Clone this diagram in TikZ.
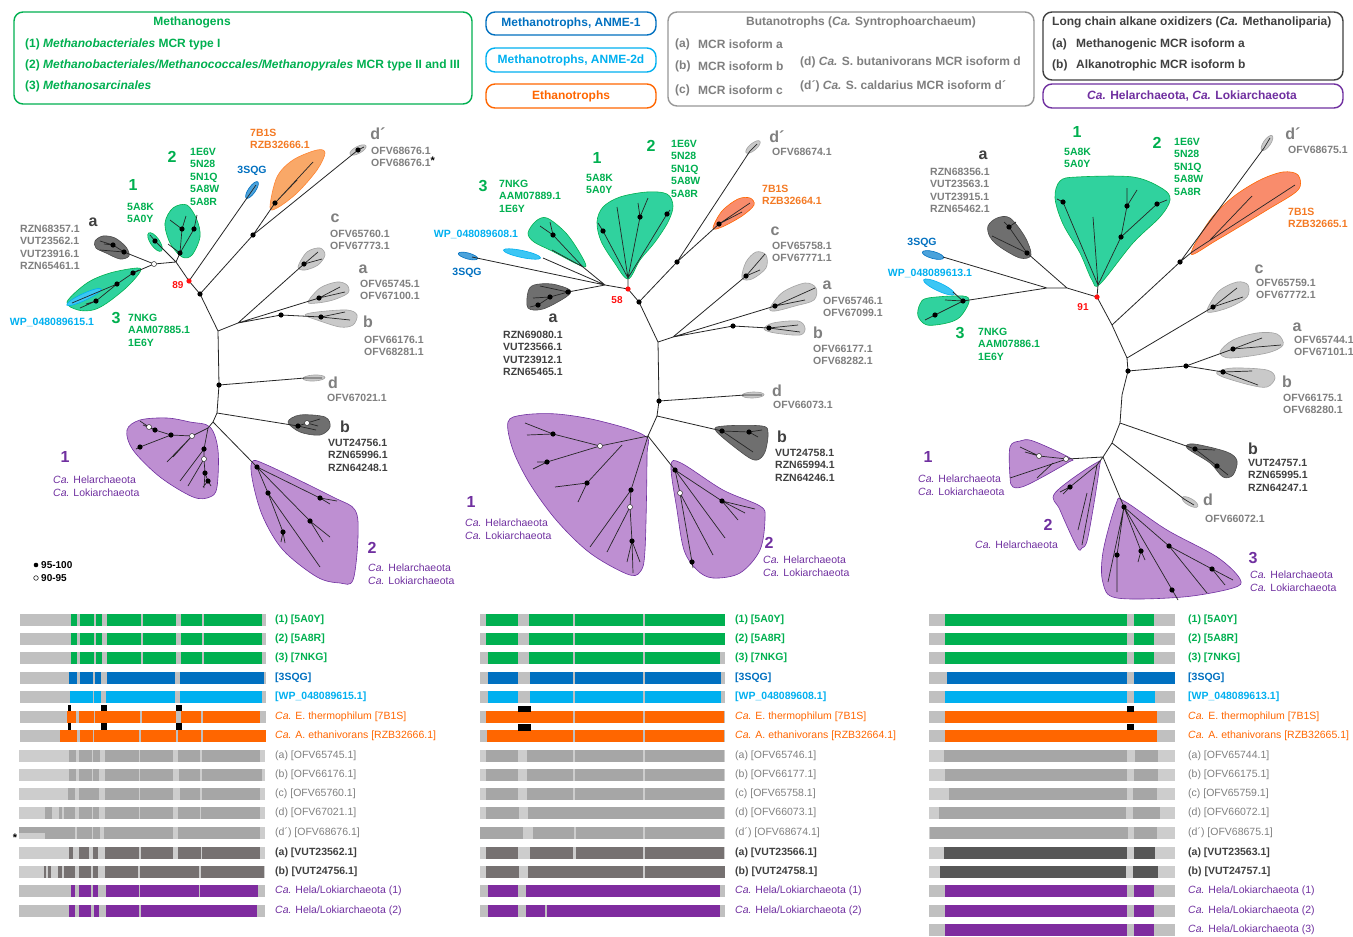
\documentclass[tikz,border=0pt]{standalone}
\usepackage{fontspec}
\setmainfont{Liberation Sans}
\definecolor{mgreen}{HTML}{00B050}
\definecolor{gfill}{HTML}{30D29E}
\definecolor{mblue}{HTML}{0070C0}
\definecolor{sfill}{HTML}{4BA2DB}
\definecolor{mcyan}{HTML}{00B0F0}
\definecolor{cfill}{HTML}{3CC6F4}
\definecolor{morange}{HTML}{FF6600}
\definecolor{otext}{HTML}{F47A24}
\definecolor{ofillA}{HTML}{F9A868}
\definecolor{ofillB}{HTML}{F98C6C}
\definecolor{mpurple}{HTML}{7030A0}
\definecolor{pfill}{HTML}{BE8FD2}
\definecolor{pbar}{HTML}{7F2C9F}
\definecolor{gtext}{HTML}{7F7F7F}
\definecolor{dtext}{HTML}{404040}
\definecolor{lfill}{HTML}{C9C9C9}
\definecolor{ldraw}{HTML}{A3A3A3}
\definecolor{dfill}{HTML}{6F6F6F}
\definecolor{ddraw}{HTML}{4A4A4A}
\definecolor{barbg}{HTML}{C0C0C0}
\definecolor{barbgl}{HTML}{CDCDCD}
\definecolor{gseg}{HTML}{A6A6A6}
\definecolor{dseg}{HTML}{767171}
\definecolor{dsegc}{HTML}{575757}
\definecolor{bootred}{HTML}{FF1010}
\newcommand\mcrbar[6]{%
  \fill[#4] (#2,#1-6) rectangle (#3,#1+6);
  \foreach \sa/\sb in {#6} {\fill[#5] (\sa,#1-6) rectangle (\sb,#1+6);}}
\newcommand\clade[2]{\filldraw[#1] plot[smooth cycle,tension=0.55] coordinates {#2};}
\newcommand\astmark{\raisebox{2.5pt}{\color{black}\bfseries\fontsize{11}{11}\selectfont *}}
\begin{document}
\begin{tikzpicture}[x=1pt,y=-1pt,
  br/.style={line width=0.8pt,draw=black!85,line join=round},
  tw/.style={line width=0.7pt,draw=black!85},
  gcl/.style={fill=gfill,draw=mgreen,line width=0.6pt},
  scl/.style={fill=sfill,draw=mblue,line width=0.6pt},
  ccl/.style={fill=cfill,draw=mcyan,line width=0.6pt},
  oclA/.style={fill=ofillA,draw=morange!80,line width=0.6pt},
  oclB/.style={fill=ofillB,draw=morange,line width=0.6pt},
  lcl/.style={fill=lfill,draw=ldraw,line width=0.6pt},
  dcl/.style={fill=dfill,draw=ddraw,line width=0.6pt},
  pcl/.style={fill=pfill,draw=mpurple,line width=0.6pt},
  tl/.style={font=\bfseries\fontsize{10.5}{12.4}\selectfont,align=left,anchor=north west,inner sep=0pt},
  tc/.style={font=\bfseries\fontsize{10.5}{12.4}\selectfont,inner sep=0pt},
  tp/.style={font=\fontsize{10.5}{12.4}\selectfont,align=left,anchor=north west,inner sep=0pt,text=mpurple},
  bigl/.style={font=\bfseries\fontsize{16}{18}\selectfont,inner sep=0pt},
  bs/.style={font=\bfseries\fontsize{10}{12}\selectfont,inner sep=0pt,text=bootred},
  leg/.style={font=\bfseries\fontsize{12}{14}\selectfont,inner sep=0pt,anchor=west},
  blab/.style={font=\fontsize{10.5}{12}\selectfont,inner sep=0pt,anchor=west},
  blb/.style={font=\bfseries\fontsize{10.5}{12}\selectfont,inner sep=0pt,anchor=west},
  box/.style={rounded corners=9pt,line width=1.4pt}]
\useasboundingbox (0,0) rectangle (1353,937);
\fill[white] (0,0) rectangle (1353,937);

% ================= LEGEND =================
\draw[box,mgreen] (14,12) rectangle (472,104);
\node[leg,anchor=center,mgreen] (lgT) at (192,22) {Methanogens};
\node[leg,mgreen] (lg1) at (25,44) {(1) \textit{Methanobacteriales} MCR type I};
\node[leg,mgreen] (lg2) at (25,65) {(2) \textit{Methanobacteriales/Methanococcales/Methanopyrales} MCR type II and III};
\node[leg,mgreen] (lg3) at (25,86) {(3) \textit{Methanosarcinales}};
\draw[box,mblue] (486,12) rectangle (656,35);
\node[leg,anchor=center,mblue] (lgA1) at (571,23) {Methanotrophs, ANME-1};
\draw[box,mcyan] (486,48) rectangle (656,72);
\node[leg,anchor=center,mcyan] (lgA2) at (571,60) {Methanotrophs, ANME-2d};
\draw[box,morange] (486,84) rectangle (656,108);
\node[leg,anchor=center,morange] (lgE) at (571,96) {Ethanotrophs};
\draw[box,gtext!80] (668,12) rectangle (1034,106);
\node[leg,anchor=center,gtext] (lgB) at (861,22) {Butanotrophs (\textit{Ca.} Syntrophoarchaeum)};
\node[leg,gtext] (lgBa) at (675,44) {(a)};
\node[leg,gtext] (lgBa2) at (698,44) {MCR isoform a};
\node[leg,gtext] (lgBb) at (675,66) {(b)};
\node[leg,gtext] (lgBb2) at (698,66) {MCR isoform b};
\node[leg,gtext] (lgBc) at (675,90) {(c)};
\node[leg,gtext] (lgBc2) at (698,90) {MCR isoform c};
\node[leg,gtext] (lgBd) at (800,62) {(d) \textit{Ca.} S. butanivorans MCR isoform d};
\node[leg,gtext] (lgBdp) at (800,86) {(d´) \textit{Ca.} S. caldarius MCR isoform d´};
\draw[box,dtext] (1043,12) rectangle (1343,80);
\node[leg,dtext] (lgL) at (1052,22) {Long chain alkane oxidizers (\textit{Ca.} Methanoliparia)};
\node[leg,dtext] (lgLa) at (1052,44) {(a)};
\node[leg,dtext] (lgLa2) at (1076,44) {Methanogenic MCR isoform a};
\node[leg,dtext] (lgLb) at (1052,65) {(b)};
\node[leg,dtext] (lgLb2) at (1076,65) {Alkanotrophic MCR isoform b};
\draw[box,mpurple] (1043,84) rectangle (1343,108);
\node[leg,anchor=center,mpurple] (lgH) at (1192,96) {\textit{Ca.} Helarchaeota, \textit{Ca.} Lokiarchaeota};

% ================= TREE 1 =================
\coordinate (p1) at (218,331); \coordinate (p2) at (238,323); \coordinate (p3) at (281,315);
\coordinate (t1cB) at (321,317); \coordinate (t1cA) at (319,298); \coordinate (t1cC) at (304,264);
\coordinate (p4) at (200,294); \coordinate (p5) at (253,235); \coordinate (t1O) at (275,203);
\coordinate (t1Dp) at (358,150); \coordinate (r1) at (189,281); \coordinate (t1S) at (247,198);
\coordinate (p6) at (176,262); \coordinate (t1g2) at (180,253); \coordinate (t1g1) at (155,241);
\coordinate (w1) at (154,264); \coordinate (t1Da) at (124,252); \coordinate (t1g3) at (133,273);
\coordinate (p7) at (219,385); \coordinate (t1D) at (305,378); \coordinate (p8) at (217,413);
\coordinate (t1Db) at (298,426); \coordinate (p9) at (213,422); \coordinate (p10) at (208,428);
\coordinate (t1P2) at (257,467);

\clade{dcl}{(95,241) (103,236) (115,238) (126,247) (129,256) (120,259) (106,253) (96,248)}
\clade{gcl}{(67,302) (87,283) (110,273) (137,268) (140,272) (127,287) (107,303) (93,310) (78,310)}
\filldraw[ccl,rotate around={25:(84,297)}] (84,297) ellipse (19 and 3.5);
\clade{gcl}{(165,223) (173,208) (187,205) (197,220) (200,237) (192,255) (182,257) (170,243)}
\filldraw[gcl,rotate around={-55:(155,242)}] (155,242) ellipse (11 and 4.5);
\filldraw[scl,rotate around={55:(252,190)}] (252,190) ellipse (10 and 3.5);
\clade{oclA}{(270,207) (277,177) (293,160) (317,150) (325,153) (317,170) (297,193) (277,208)}
\filldraw[lcl,rotate around={28:(358,150)}] (358,150) ellipse (9 and 3.5);
\clade{lcl}{(298,267) (307,252) (320,248) (325,255) (318,265) (305,270)}
\clade{lcl}{(308,302) (320,288) (337,282) (347,285) (348,293) (333,300) (317,303)}
\clade{lcl}{(305,315) (317,312) (347,310) (357,315) (353,325) (340,327) (317,320)}
\filldraw[lcl,rotate around={3:(314,378)}] (314,378) ellipse (11 and 3);
\clade{dcl}{(288,422) (300,415) (325,417) (330,427) (320,435) (300,432)}
\clade{pcl}{(127,430) (140,420) (167,418) (190,422) (210,427) (218,450) (217,487) (210,497) (193,497) (160,477) (133,450)}
\clade{pcl}{(252,462) (267,465) (333,497) (355,510) (358,537) (353,580) (340,583) (317,577) (283,550) (263,517) (253,483)}

\draw[br] (p1)--(p2) (p2)--(t1cC) (p2)--(t1cA) (p2)--(p3) (p3)--(t1cB)
  (p1)--(p4) (p4)--(r1) (p4)--(p5) (p5)--(t1O) (p5)--(t1Dp)
  (r1)--(t1S) (r1)--(p6) (p6)--(t1g2) (p6)--(t1g1) (p6)--(w1) (w1)--(t1Da) (w1)--(t1g3)
  (p1)--(p7) (p7)--(t1D) (p7)--(p8) (p8)--(t1Db) (p8)--(p9) (p9)--(t1P2) (p9)--(p10);
\draw[tw] (t1cC)--(318,252) (t1cC)--(322,259) (t1cA)--(340,287) (t1cA)--(345,292)
  (t1cB)--(345,312) (t1cB)--(350,320) (t1Dp)--(364,147) (t1O)--(313,162) (t1O)--(297,180)
  (t1g2)--(182,229) (182,229)--(170,220) (182,229)--(186,216) (t1g2)--(194,229) (194,229)--(197,215) (t1g2)--(168,244)
  (t1g1)--(150,235) (t1Da)--(113,245) (113,245)--(100,241) (113,245)--(104,244) (t1Da)--(100,250)
  (t1g3)--(117,284) (117,284)--(96,301) (96,301)--(80,308) (96,301)--(86,304) (117,284)--(72,303) (t1g3)--(139,270)
  (t1S)--(256,185) (t1D)--(322,378)
  (t1Db)--(307,423) (307,423)--(320,419) (307,423)--(318,426) (t1Db)--(316,430)
  (p10)--(192,436) (192,436)--(171,435) (171,435)--(155,430) (155,430)--(149,427) (149,427)--(140,421)
  (155,430)--(143,425) (171,435)--(140,447) (140,447)--(136,449) (192,436)--(167,462) (192,436)--(173,457)
  (p10)--(204,449) (204,449)--(204,459) (204,459)--(205,473) (205,473)--(208,481) (208,481)--(203,487) (208,481)--(211,486)
  (205,473)--(204,488) (204,449)--(180,481) (204,459)--(188,486)
  (t1P2)--(268,493) (268,493)--(283,532) (283,532)--(285,543) (283,532)--(281,542) (268,493)--(320,567)
  (t1P2)--(320,498) (320,498)--(337,501) (320,498)--(330,504) (t1P2)--(310,521) (310,521)--(330,537) (310,521)--(323,542);
\foreach \px/\py in {200/294,253/235,275/203,358/150,281/315,321/317,319/298,304/264,155/241,182/229,194/229,180/253,
  113/245,124/252,133/273,117/284,96/301,219/385,298/426,171/435,155/430,140/447,204/449,205/473,208/481,
  257/467,268/493,283/532,320/498,310/521}
  {\fill (\px,\py) circle (2.6);}
\foreach \px/\py in {154/264,149/427,192/436,204/459,307/423}
  {\filldraw[fill=white,draw=black!80,line width=0.5pt] (\px,\py) circle (2.5);}
\fill[bootred] (r1) circle (2.6);

\node[bigl,dtext] (t1la) at (93,222) {a};
\node[tl,gtext] (t1ta) at (20,225) {RZN68357.1\\VUT23562.1\\VUT23916.1\\RZN65461.1};
\node[bigl,mgreen] (t1l1) at (133,185) {1};
\node[tl,mgreen] (t1t1) at (127,203) {5A8K\\5A0Y};
\node[bigl,mgreen] (t1l2) at (172,157) {2};
\node[tl,mgreen] (t1t2) at (190,148) {1E6V\\5N28\\5N1Q\\5A8W\\5A8R};
\node[tc,mblue] (t1s) at (252,171) {3SQG};
\node[tl,otext] (t1o) at (250,129) {7B1S\\RZB32666.1};
\node[bigl,gtext] (t1ldp) at (378,134) {d´};
\node[tl,gtext] (t1tdp) at (371,147) {OFV68676.1\\OFV68676.1\astmark};
\node[bigl,gtext] (t1lc) at (335,218) {c};
\node[tl,gtext] (t1tc) at (330,230) {OFV65760.1\\OFV67773.1};
\node[bigl,gtext] (t1lA) at (363,269) {a};
\node[tl,gtext] (t1tA) at (360,280) {OFV65745.1\\OFV67100.1};
\node[bigl,gtext] (t1lB) at (368,322) {b};
\node[tl,gtext] (t1tB) at (364,336) {OFV66176.1\\OFV68281.1};
\node[bigl,gtext] (t1ld) at (333,383) {d};
\node[tl,gtext] (t1td) at (327,394) {OFV67021.1};
\node[bigl,dtext] (t1lb) at (345,427) {b};
\node[tl,dtext] (t1tb) at (328,439) {VUT24756.1\\RZN65996.1\\RZN64248.1};
\node[bigl,mgreen] (t1l3) at (116,318) {3};
\node[tl,mgreen] (t1t3) at (128,314) {7NKG\\AAM07885.1\\1E6Y};
\node[tc,mcyan] (t1w) at (52,322) {WP\_048089615.1};
\node[bs] (t1bs) at (178,285) {89};
\node[bigl,mpurple] (t1p1) at (65,457) {1};
\node[tp] (t1pt1) at (53,476) {\textit{Ca.} Helarchaeota\\\textit{Ca.} Lokiarchaeota};
\node[bigl,mpurple] (t1p2) at (372,548) {2};
\node[tp] (t1pt2) at (368,564) {\textit{Ca.} Helarchaeota\\\textit{Ca.} Lokiarchaeota};
\fill (36,565) circle (2.3);
\filldraw[fill=white,draw=black,line width=0.5pt] (36,578) circle (2.3);
\node[font=\bfseries\fontsize{10}{12}\selectfont,inner sep=0,anchor=west] (k1) at (41,565) {95-100};
\node[font=\bfseries\fontsize{10}{12}\selectfont,inner sep=0,anchor=west] (k2) at (41,578) {90-95};

% ================= TREE 2 =================
\coordinate (q1) at (658,342); \coordinate (q2) at (673,337); \coordinate (t2C) at (746,276);
\coordinate (q3) at (733,326); \coordinate (t2B) at (769,328); \coordinate (t2A) at (775,306);
\coordinate (q4) at (639,302); \coordinate (q5) at (677,262); \coordinate (t2O) at (719,224);
\coordinate (t2Dp) at (750,151); \coordinate (r2) at (628,289); \coordinate (t2g12) at (628,278);
\coordinate (J2) at (605,285); \coordinate (t2Da) at (568,292); \coordinate (t2g3) at (583,267);
\coordinate (t2W) at (543,258); \coordinate (t2S) at (472,257); \coordinate (q6) at (659,401);
\coordinate (t2D) at (745,395); \coordinate (q7) at (657,416); \coordinate (t2Db) at (722,431);
\coordinate (q8) at (648,436); \coordinate (t2P2) at (675,470);

\clade{lcl}{(742,278) (746,262) (756,252) (766,255) (766,268) (752,279)}
\clade{lcl}{(770,308) (783,292) (805,283) (816,288) (814,300) (795,306) (775,311)}
\clade{lcl}{(764,329) (773,323) (798,321) (805,328) (800,335) (775,333)}
\clade{oclB}{(713,228) (722,211) (738,199) (750,198) (754,205) (742,216) (722,227)}
\filldraw[lcl,rotate around={40:(753,147)}] (753,147) ellipse (9 and 3.5);
\clade{dcl}{(528,292) (534,285) (552,284) (570,290) (566,297) (543,309) (528,308)}
\clade{gcl}{(528,233) (536,221) (547,218) (565,232) (578,250) (586,266) (577,264) (552,251) (534,242)}
\clade{gcl}{(597,222) (603,207) (620,197) (647,192) (667,194) (673,206) (668,222) (655,242) (640,260) (628,279) (614,262) (601,241)}
\filldraw[ccl,rotate around={-12:(522,254)}] (522,254) ellipse (19 and 3.5);
\filldraw[scl,rotate around={-15:(468,256)}] (468,256) ellipse (10 and 3);
\filldraw[lcl,rotate around={2:(753,395)}] (753,395) ellipse (11 and 3);
\clade{dcl}{(716,431) (724,426) (762,426) (768,433) (765,452) (757,460) (745,455)}
\clade{pcl}{(508,422) (523,415) (557,414) (600,421) (645,436) (647,457) (645,550) (640,572) (627,574) (590,553) (557,521) (530,484) (513,450)}
\clade{pcl}{(671,466) (681,463) (723,490) (760,506) (765,518) (760,550) (740,573) (713,578) (697,570) (684,550) (677,510)}

\draw[br] (q1)--(q2) (q2)--(t2C) (q2)--(t2A) (q2)--(q3) (q3)--(t2B)
  (q1)--(q4) (q4)--(r2) (q4)--(q5) (q5)--(t2O) (q5)--(t2Dp)
  (r2)--(t2g12) (r2)--(J2) (J2)--(t2Da) (J2)--(t2g3) (J2)--(t2W) (J2)--(t2S)
  (q1)--(q6) (q6)--(t2D) (q6)--(q7) (q7)--(t2Db) (q7)--(q8) (q8)--(t2P2);
\draw[tw] (t2C)--(765,254) (t2C)--(760,270) (t2A)--(815,288) (t2A)--(805,300)
  (t2B)--(798,325) (t2B)--(800,332) (t2O)--(750,203) (t2O)--(742,212) (t2Dp)--(757,144) (t2D)--(762,395)
  (t2g12)--(603,231) (603,231)--(598,223) (t2g12)--(617,207) (t2g12)--(640,217) (640,217)--(638,203) (640,217)--(648,198)
  (t2g12)--(667,214) (667,214)--(670,210)
  (t2g3)--(553,235) (553,235)--(540,226) (553,235)--(550,222) (t2g3)--(552,250)
  (t2Da)--(550,297) (550,297)--(538,305) (538,305)--(530,307) (550,297)--(533,298) (t2Da)--(540,286)
  (t2Db)--(749,432) (749,432)--(762,430) (749,432)--(758,437) (t2Db)--(753,452)
  (q8)--(600,446) (600,446)--(553,434) (553,434)--(525,423) (553,434)--(527,435) (600,446)--(547,462) (547,462)--(533,469) (547,462)--(537,462)
  (622,445)--(587,483) (587,483)--(555,487) (587,483)--(578,502)
  (q8)--(631,490) (631,490)--(630,507) (630,507)--(632,541) (632,541)--(633,573) (632,541)--(640,562) (632,541)--(627,562)
  (631,490)--(590,547) (630,507)--(607,552)
  (t2P2)--(680,493) (680,493)--(692,562) (692,562)--(693,568) (680,493)--(713,555) (t2P2)--(725,538)
  (t2P2)--(722,501) (722,501)--(755,509) (722,501)--(745,513) (722,501)--(738,520);
\foreach \px/\py in {639/302,677/262,719/224,733/326,769/328,775/306,746/276,603/231,640/217,667/214,553/235,
  568/292,550/297,538/305,659/401,722/431,749/432,553/434,547/462,587/483,631/490,632/541,675/470,722/501,692/562}
  {\fill (\px,\py) circle (2.6);}
\foreach \px/\py in {600/446,630/507,680/493}
  {\filldraw[fill=white,draw=black!80,line width=0.5pt] (\px,\py) circle (2.5);}
\fill[bootred] (r2) circle (2.6);

\node[bigl,mgreen] (t2l3) at (483,186) {3};
\node[tl,mgreen] (t2t3) at (499,180) {7NKG\\AAM07889.1\\1E6Y};
\node[bigl,mgreen] (t2l1) at (597,158) {1};
\node[tl,mgreen] (t2t1) at (586,174) {5A8K\\5A0Y};
\node[bigl,mgreen] (t2l2) at (651,146) {2};
\node[tl,mgreen] (t2t2) at (671,140) {1E6V\\5N28\\5N1Q\\5A8W\\5A8R};
\node[tc,mcyan] (t2w) at (476,234) {WP\_048089608.1};
\node[tc,mblue] (t2s) at (467,273) {3SQG};
\node[tl,otext] (t2o) at (762,185) {7B1S\\RZB32664.1};
\node[bigl,gtext] (t2ldp) at (777,137) {d´};
\node[tl,gtext] (t2tdp) at (772,148) {OFV68674.1};
\node[bigl,gtext] (t2lc) at (775,231) {c};
\node[tl,gtext] (t2tc) at (772,242) {OFV65758.1\\OFV67771.1};
\node[bigl,gtext] (t2lA) at (827,285) {a};
\node[tl,gtext] (t2tA) at (823,297) {OFV65746.1\\OFV67099.1};
\node[bigl,gtext] (t2lB) at (818,333) {b};
\node[tl,gtext] (t2tB) at (813,345) {OFV66177.1\\OFV68282.1};
\node[bs] (t2bs) at (617,300) {58};
\node[bigl,dtext] (t2la) at (553,318) {a};
\node[tl,dtext] (t2ta) at (503,331) {RZN69080.1\\VUT23566.1\\VUT23912.1\\RZN65465.1};
\node[bigl,gtext] (t2ld) at (777,391) {d};
\node[tl,gtext] (t2td) at (773,401) {OFV66073.1};
\node[bigl,dtext] (t2lb) at (782,437) {b};
\node[tl,dtext] (t2tb) at (775,449) {VUT24758.1\\RZN65994.1\\RZN64246.1};
\node[bigl,mpurple] (t2p1) at (471,502) {1};
\node[tp] (t2pt1) at (465,519) {\textit{Ca.} Helarchaeota\\\textit{Ca.} Lokiarchaeota};
\node[bigl,mpurple] (t2p2) at (769,543) {2};
\node[tp] (t2pt2) at (763,556) {\textit{Ca.} Helarchaeota\\\textit{Ca.} Lokiarchaeota};

% ================= TREE 3 =================
\coordinate (r3) at (1097,297); \coordinate (t3g12) at (1098,285); \coordinate (s1) at (1067,288);
\coordinate (s2) at (1047,288); \coordinate (t3Da) at (1027,253); \coordinate (t3S) at (943,257);
\coordinate (t3g3) at (963,301); \coordinate (t3W) at (953,292); \coordinate (s3) at (1112,325);
\coordinate (s4) at (1180,262); \coordinate (t3O) at (1192,252); \coordinate (t3Dp) at (1264,148);
\coordinate (s5) at (1127,358); \coordinate (t3C) at (1213,307); \coordinate (s6) at (1128,371);
\coordinate (s7) at (1186,366); \coordinate (t3A) at (1233,349); \coordinate (t3B) at (1223,372);
\coordinate (s8) at (1122,395); \coordinate (s9) at (1120,423); \coordinate (t3Db) at (1195,449);
\coordinate (s10) at (1112,443); \coordinate (t3D) at (1184,499); \coordinate (s11) at (1103,457);
\coordinate (t3P1) at (1067,459); \coordinate (t3P2) at (1097,465); \coordinate (t3P3) at (1124,507);

\clade{gcl}{(1055,198) (1060,181) (1077,177) (1133,177) (1163,189) (1170,200) (1160,217) (1133,243) (1100,284) (1092,280) (1080,253) (1063,224)}
\clade{dcl}{(988,226) (997,218) (1010,218) (1025,237) (1031,255) (1020,258) (1000,247) (990,237)}
\clade{gcl}{(920,304) (928,298) (963,296) (969,302) (960,317) (947,323) (927,325) (918,316)}
\filldraw[scl,rotate around={-15:(933,255)}] (933,255) ellipse (11 and 3.5);
\filldraw[ccl,rotate around={-25:(939,287)}] (939,287) ellipse (17 and 4);
\clade{oclB}{(1191,254) (1210,220) (1233,197) (1260,180) (1283,172) (1298,175) (1298,190) (1267,210) (1217,240)}
\filldraw[lcl,rotate around={55:(1267,143)}] (1267,143) ellipse (9 and 3.5);
\clade{lcl}{(1207,310) (1219,291) (1237,282) (1248,285) (1247,297) (1230,307) (1213,312)}
\clade{lcl}{(1220,352) (1233,340) (1257,333) (1277,334) (1283,345) (1267,353) (1230,358)}
\clade{lcl}{(1217,372) (1233,368) (1267,370) (1275,378) (1267,387) (1250,385) (1223,377)}
\clade{dcl}{(1187,448) (1194,444) (1227,452) (1237,461) (1233,475) (1223,477) (1210,463)}
\filldraw[lcl,rotate around={-30:(1190,502)}] (1190,502) ellipse (9 and 3.5);
\clade{pcl}{(1010,447) (1020,441) (1033,441) (1070,458) (1067,463) (1027,485) (1013,487) (1010,477)}
\clade{pcl}{(1055,493) (1096,463) (1099,470) (1088,537) (1082,548) (1077,547) (1060,510)}
\clade{pcl}{(1103,552) (1116,504) (1124,501) (1167,530) (1217,557) (1240,579) (1233,588) (1183,597) (1117,598) (1103,583)}

\draw[br] (r3)--(t3g12) (r3)--(s1) (s1)--(t3Da) (s1)--(s2) (s2)--(t3S) (s2)--(t3g3) (t3g3)--(t3W)
  (r3)--(s3) (s3)--(s4) (s4)--(t3O) (s4)--(t3Dp) (s3)--(s5) (s5)--(t3C) (s5)--(s6)
  (s6)--(s7) (s7)--(t3A) (s7)--(t3B) (s6)--(s8) (s8)--(s9) (s9)--(t3Db) (s9)--(s10)
  (s10)--(t3D) (s10)--(s11) (s11)--(t3P1) (s11)--(t3P2) (s11)--(t3P3);
\draw[tw] (t3g12)--(1093,217) (t3g12)--(1063,202) (1063,202)--(1057,199) (t3g12)--(1121,237) (1121,237)--(1127,206)
  (1127,206)--(1127,188) (1127,206)--(1137,190) (1121,237)--(1157,204) (1157,204)--(1167,200)
  (t3Da)--(1009,227) (1009,227)--(1004,222) (1009,227)--(1016,222) (t3Da)--(992,236)
  (t3g3)--(935,315) (935,315)--(925,320) (t3g3)--(945,300)
  (t3O)--(1295,185) (1210,240)--(1252,196) (t3Dp)--(1270,138)
  (t3C)--(1237,288) (t3C)--(1243,297) (t3A)--(1262,338) (t3A)--(1281,345)
  (t3B)--(1252,371) (t3B)--(1258,385)
  (t3Db)--(1215,450) (t3Db)--(1217,466) (1217,466)--(1228,475) (t3D)--(1194,505)
  (t3P1)--(1039,456) (1039,456)--(1020,447) (1039,456)--(1025,452) (t3P1)--(1010,478) (1053,463)--(1037,478)
  (t3P2)--(1070,487) (1070,487)--(1060,492) (1070,487)--(1063,494) (t3P2)--(1082,545) (1087,493)--(1078,530)
  (t3P3)--(1108,582) (t3P3)--(1117,555) (1117,555)--(1117,592) (t3P3)--(1141,551) (1141,551)--(1145,560) (1141,551)--(1138,562)
  (t3P3)--(1169,546) (1169,546)--(1212,569) (1212,569)--(1233,580) (1212,569)--(1225,585) (1169,546)--(1207,593)
  (t3P3)--(1178,600);
\foreach \px/\py in {1180/262,1063/202,1127/206,1157/204,1121/237,1027/253,1009/227,963/301,935/315,1213/307,
  1128/371,1186/366,1233/349,1223/372,1195/449,1217/466,1070/487,1124/507,1117/555,1141/551,1169/546,1212/569,1172/590}
  {\fill (\px,\py) circle (2.6);}
\foreach \px/\py in {1039/456,1066/459}
  {\filldraw[fill=white,draw=black!80,line width=0.5pt] (\px,\py) circle (2.5);}
\fill[bootred] (r3) circle (2.6);

\node[bigl,mgreen] (t3l1) at (1077,132) {1};
\node[tl,mgreen] (t3t1) at (1064,148) {5A8K\\5A0Y};
\node[bigl,mgreen] (t3l2) at (1157,143) {2};
\node[tl,mgreen] (t3t2) at (1174,138) {1E6V\\5N28\\5N1Q\\5A8W\\5A8R};
\node[bigl,dtext] (t3la) at (983,155) {a};
\node[tl,gtext] (t3ta) at (930,168) {RZN68356.1\\VUT23563.1\\VUT23915.1\\RZN65462.1};
\node[tc,mblue] (t3s) at (922,243) {3SQG};
\node[tc,mcyan] (t3w) at (930,273) {WP\_048089613.1};
\node[bs] (t3bs) at (1083,307) {91};
\node[bigl,mgreen] (t3l3) at (960,333) {3};
\node[tl,mgreen] (t3t3) at (978,328) {7NKG\\AAM07886.1\\1E6Y};
\node[bigl,gtext] (t3ldp) at (1293,134) {d´};
\node[tl,gtext] (t3tdp) at (1288,146) {OFV68675.1};
\node[tl,otext] (t3o) at (1288,208) {7B1S\\RZB32665.1};
\node[bigl,gtext] (t3lc) at (1259,269) {c};
\node[tl,gtext] (t3tc) at (1256,279) {OFV65759.1\\OFV67772.1};
\node[bigl,gtext] (t3lA) at (1297,327) {a};
\node[tl,gtext] (t3tA) at (1294,336) {OFV65744.1\\OFV67101.1};
\node[bigl,gtext] (t3lB) at (1287,382) {b};
\node[tl,gtext] (t3tB) at (1283,394) {OFV66175.1\\OFV68280.1};
\node[bigl,dtext] (t3lb) at (1253,449) {b};
\node[tl,dtext] (t3tb) at (1248,459) {VUT24757.1\\RZN65995.1\\RZN64247.1};
\node[bigl,gtext] (t3ld) at (1208,500) {d};
\node[tl,gtext] (t3td) at (1205,515) {OFV66072.1};
\node[bigl,mpurple] (t3p1) at (928,457) {1};
\node[tp] (t3pt1) at (918,475) {\textit{Ca.} Helarchaeota\\\textit{Ca.} Lokiarchaeota};
\node[bigl,mpurple] (t3p2) at (1048,525) {2};
\node[tp] (t3pt2) at (975,541) {\textit{Ca.} Helarchaeota};
\node[bigl,mpurple] (t3p3) at (1253,558) {3};
\node[tp] (t3pt3) at (1250,571) {\textit{Ca.} Helarchaeota\\\textit{Ca.} Lokiarchaeota};

% ================= BARS PANEL 1 =================
\mcrbar{620}{20}{266}{barbg}{mgreen}{71/77,80/94,96/102,107/141,143/176,181/202,204/262}
\mcrbar{639}{20}{266}{barbg}{mgreen}{71/77,80/94,96/102,107/141,143/176,181/202,204/262}
\mcrbar{658}{20}{266}{barbg}{mgreen}{71/77,80/94,96/102,107/141,143/176,181/202,204/262}
\mcrbar{678}{20}{266}{barbg}{mblue}{69/77,80/93,95/101,107/175,180/264}
\mcrbar{697}{20}{266}{barbg}{mcyan}{70/93,94/101,106/175,180/262}
\mcrbar{717}{20}{266}{barbg}{morange}{67/76,79/94,95/140,142/176,181/201,203/260}
\mcrbar{736}{20}{266}{barbg}{morange}{60/77,80/93,94/139,141/176,178/201,203/266}
\mcrbar{756}{19}{265}{barbgl}{gseg}{69/76,79/92,93/100,105/139,140/173,178/200,202/260}
\mcrbar{775}{19}{265}{barbgl}{gseg}{69/76,79/92,93/99,105/139,140/173,179/200,202/262}
\mcrbar{794}{19}{265}{barbgl}{gseg}{68/75,79/99,105/139,140/173,180/200,202/260}
\mcrbar{813}{19}{265}{barbgl}{gseg}{45/52,59/62,64/75,79/92,93/99,105/139,140/173,178/200,201/260}
\mcrbar{833}{19}{265}{barbgl}{gseg}{45/75,77/92,93/100,104/173,178/260}
\fill[gseg] (19,827) rectangle (45,833);
\mcrbar{853}{19}{265}{barbgl}{dseg}{69/73,79/89,93/98,105/139,141/173,178/201,202/260}
\mcrbar{872}{19}{265}{barbgl}{dseg}{44/46,48/51,58/62,64/75,79/91,93/98,105/138,140/199,201/264}
\mcrbar{891}{19}{265}{barbg}{pbar}{71/75,79/91,93/98,106/139,140/199,200/258}
\mcrbar{911}{19}{265}{barbg}{pbar}{69/75,79/91,94/99,106/139,141/257}
\fill (67.5,705) rectangle (70.5,711); \fill (67.5,723) rectangle (70.5,730);
\fill (101,705) rectangle (107,711); \fill (101,723) rectangle (107,730);
\fill (176,705) rectangle (182,711); \fill (176,723) rectangle (182,730);
\node[font=\bfseries\fontsize{11}{11}\selectfont,inner sep=0] (ast1) at (15,838) {*};
\node[blb,mgreen] (a1) at (275,620) {(1) [5A0Y]};
\node[blb,mgreen] (a2) at (275,639) {(2) [5A8R]};
\node[blb,mgreen] (a3) at (275,658) {(3) [7NKG]};
\node[blb,mblue] (a4) at (275,678) {[3SQG]};
\node[blb,mcyan] (a5) at (275,697) {[WP\_048089615.1]};
\node[blab,morange] (a6) at (275,717) {\textit{Ca.} E. thermophilum [7B1S]};
\node[blab,morange] (a7) at (275,736) {\textit{Ca.} A. ethanivorans [RZB32666.1]};
\node[blab,gtext] (a8) at (275,756) {(a) [OFV65745.1]};
\node[blab,gtext] (a9) at (275,775) {(b) [OFV66176.1]};
\node[blab,gtext] (a10) at (275,794) {(c) [OFV65760.1]};
\node[blab,gtext] (a11) at (275,813) {(d) [OFV67021.1]};
\node[blab,gtext] (a12) at (275,833) {(d´) [OFV68676.1]};
\node[blb,dtext] (a13) at (275,853) {(a) [VUT23562.1]};
\node[blb,dtext] (a14) at (275,872) {(b) [VUT24756.1]};
\node[blab,mpurple] (a15) at (275,891) {\textit{Ca.} Hela/Lokiarchaeota (1)};
\node[blab,mpurple] (a16) at (275,911) {\textit{Ca.} Hela/Lokiarchaeota (2)};

% ================= BARS PANEL 2 =================
\mcrbar{620}{480}{725}{barbg}{mgreen}{486/518,529/573,575/643,645/725}
\mcrbar{639}{480}{725}{barbg}{mgreen}{486/518,529/573,575/643,645/725}
\mcrbar{658}{480}{725}{barbg}{mgreen}{488/518,529/573,575/643,645/720}
\mcrbar{678}{480}{725}{barbg}{mblue}{488/518,530/573,575/643,645/721}
\mcrbar{697}{480}{725}{barbg}{mcyan}{488/518,530/573,575/643,645/721}
\mcrbar{717}{480}{725}{barbg}{morange}{486/573,575/643,645/724}
\mcrbar{736}{480}{725}{barbg}{morange}{487/573,575/643,645/724}
\mcrbar{756}{480}{725}{barbgl}{gseg}{486/518,527/573,575/643,645/724}
\mcrbar{775}{480}{725}{barbgl}{gseg}{486/518,527/573,575/643,645/724}
\mcrbar{794}{480}{725}{barbgl}{gseg}{486/518,527/573,575/643,645/724}
\mcrbar{813}{480}{725}{barbgl}{gseg}{486/519,528/724}
\mcrbar{833}{480}{725}{barbgl}{gseg}{480/523,533/574,576/643,645/724}
\mcrbar{853}{480}{725}{barbgl}{dseg}{486/518,530/573,576/643,645/724}
\mcrbar{872}{480}{725}{barbgl}{dseg}{486/519,528/643,645/725}
\mcrbar{891}{480}{725}{barbg}{pbar}{488/518,526/720}
\mcrbar{911}{480}{725}{barbg}{pbar}{488/518,526/545,547/720}
\fill (518,706) rectangle (531,712); \fill (518,724) rectangle (531,731);
\node[blb,mgreen] (b1) at (735,620) {(1) [5A0Y]};
\node[blb,mgreen] (b2) at (735,639) {(2) [5A8R]};
\node[blb,mgreen] (b3) at (735,658) {(3) [7NKG]};
\node[blb,mblue] (b4) at (735,678) {[3SQG]};
\node[blb,mcyan] (b5) at (735,697) {[WP\_048089608.1]};
\node[blab,morange] (b6) at (735,717) {\textit{Ca.} E. thermophilum [7B1S]};
\node[blab,morange] (b7) at (735,736) {\textit{Ca.} A. ethanivorans [RZB32664.1]};
\node[blab,gtext] (b8) at (735,756) {(a) [OFV65746.1]};
\node[blab,gtext] (b9) at (735,775) {(b) [OFV66177.1]};
\node[blab,gtext] (b10) at (735,794) {(c) [OFV65758.1]};
\node[blab,gtext] (b11) at (735,813) {(d) [OFV66073.1]};
\node[blab,gtext] (b12) at (735,833) {(d´) [OFV68674.1]};
\node[blb,dtext] (b13) at (735,853) {(a) [VUT23566.1]};
\node[blb,dtext] (b14) at (735,872) {(b) [VUT24758.1]};
\node[blab,mpurple] (b15) at (735,891) {\textit{Ca.} Hela/Lokiarchaeota (1)};
\node[blab,mpurple] (b16) at (735,911) {\textit{Ca.} Hela/Lokiarchaeota (2)};

% ================= BARS PANEL 3 =================
\mcrbar{620}{929}{1175}{barbg}{mgreen}{945/1127,1134/1154}
\mcrbar{639}{929}{1175}{barbg}{mgreen}{945/1127,1134/1154}
\mcrbar{658}{929}{1175}{barbg}{mgreen}{945/1127,1134/1154}
\mcrbar{678}{929}{1175}{barbg}{mblue}{947/1127,1134/1175}
\mcrbar{697}{929}{1175}{barbg}{mcyan}{945/1127,1134/1155}
\mcrbar{717}{929}{1175}{barbg}{morange}{945/1157}
\mcrbar{736}{929}{1175}{barbg}{morange}{945/1157}
\mcrbar{756}{929}{1175}{barbgl}{gseg}{944/1127,1135/1158}
\mcrbar{775}{929}{1175}{barbgl}{gseg}{945/1127,1134/1158}
\mcrbar{794}{929}{1175}{barbgl}{gseg}{949/1127,1133/1157}
\mcrbar{813}{929}{1175}{barbgl}{gseg}{939/1126,1133/1160}
\mcrbar{833}{929}{1175}{barbgl}{gseg}{930/1128,1134/1157}
\mcrbar{853}{929}{1175}{barbgl}{dsegc}{944/1127,1134/1155}
\mcrbar{872}{929}{1175}{barbgl}{dsegc}{940/1126,1133/1158}
\mcrbar{891}{929}{1175}{barbg}{pbar}{945/1127,1134/1154}
\mcrbar{911}{929}{1175}{barbg}{pbar}{945/1127,1134/1154}
\mcrbar{930}{929}{1175}{barbg}{pbar}{945/1127,1134/1154}
\fill (1127,706) rectangle (1134,712); \fill (1127,724) rectangle (1134,730);
\node[blb,mgreen] (c1) at (1188,620) {(1) [5A0Y]};
\node[blb,mgreen] (c2) at (1188,639) {(2) [5A8R]};
\node[blb,mgreen] (c3) at (1188,658) {(3) [7NKG]};
\node[blb,mblue] (c4) at (1188,678) {[3SQG]};
\node[blb,mcyan] (c5) at (1188,697) {[WP\_048089613.1]};
\node[blab,morange] (c6) at (1188,717) {\textit{Ca.} E. thermophilum [7B1S]};
\node[blab,morange] (c7) at (1188,736) {\textit{Ca.} A. ethanivorans [RZB32665.1]};
\node[blab,gtext] (c8) at (1188,756) {(a) [OFV65744.1]};
\node[blab,gtext] (c9) at (1188,775) {(b) [OFV66175.1]};
\node[blab,gtext] (c10) at (1188,794) {(c) [OFV65759.1]};
\node[blab,gtext] (c11) at (1188,813) {(d) [OFV66072.1]};
\node[blab,gtext] (c12) at (1188,833) {(d´) [OFV68675.1]};
\node[blb,dtext] (c13) at (1188,853) {(a) [VUT23563.1]};
\node[blb,dtext] (c14) at (1188,872) {(b) [VUT24757.1]};
\node[blab,mpurple] (c15) at (1188,891) {\textit{Ca.} Hela/Lokiarchaeota (1)};
\node[blab,mpurple] (c16) at (1188,911) {\textit{Ca.} Hela/Lokiarchaeota (2)};
\node[blab,mpurple] (c17) at (1188,930) {\textit{Ca.} Hela/Lokiarchaeota (3)};
\end{tikzpicture}
\end{document}
